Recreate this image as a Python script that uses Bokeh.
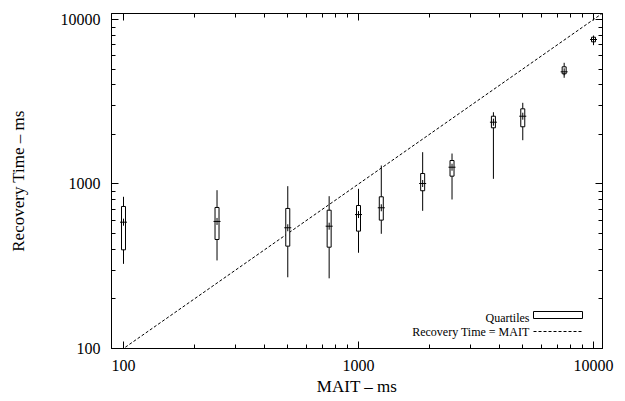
from bokeh.plotting import figure
from bokeh.models import (Range1d, FixedTicker, NumeralTickFormatter, LogAxis,
                          Label, BoxAnnotation, Arrow, CustomJSTickFormatter)
from bokeh.embed import file_html
from bokeh.resources import INLINE

# ---- data ----
mait = [100, 250, 500, 750, 1000, 1250, 1875, 2500, 3750, 5000, 7500, 10000]
whisker_lo = [327, 343, 271, 267, 382, 498, 687, 805, 1075, 1846, 4423, 6982]
q1 = [398, 460, 419, 413, 517, 603, 910, 1116, 2196, 2228, 4677, 7317]
median = [586, 592, 542, 554, 652, 717, 1007, 1265, 2375, 2583, 4808, 7558]
q3 = [730, 720, 710, 693, 740, 836, 1158, 1389, 2583, 2865, 5157, 7805]
whisker_hi = [836, 917, 970, 843, 935, 1295, 1561, 1532, 2731, 3116, 5455, 7993]

major_ticks = [100, 1000, 10000]
minor_ticks = [m * d for d in (100, 1000) for m in range(2, 10)]
ident = [80, 12000]  # Recovery Time = MAIT reference line

FONT = "Liberation Serif"

p = figure(width=617, height=398, x_axis_type="log", y_axis_type="log",
           x_range=Range1d(88.9, 10920), y_range=Range1d(100, 10876),
           output_backend="svg", toolbar_location=None,
           min_border_left=111, min_border_right=15, min_border_top=13,
           min_border_bottom=49)
p.grid.visible = False
p.outline_line_color = "black"
p.outline_line_alpha = 1
p.outline_line_width = 1
p.background_fill_color = "white"
p.border_fill_color = "white"

ticker = FixedTicker(ticks=major_ticks, minor_ticks=minor_ticks)

def style_axis(ax):
    ax.ticker = ticker
    ax.formatter = NumeralTickFormatter(format="0")
    ax.axis_line_color = "black"
    ax.major_tick_line_color = "black"
    ax.minor_tick_line_color = "black"
    ax.major_tick_in = 7
    ax.major_tick_out = 0
    ax.minor_tick_in = 4
    ax.minor_tick_out = 0
    ax.major_label_text_font = FONT
    ax.major_label_text_font_size = "16px"
    ax.major_label_text_color = "black"
    ax.axis_label_text_font = FONT
    ax.axis_label_text_font_size = "17px"
    ax.axis_label_text_font_style = "normal"
    ax.axis_label_text_color = "black"

style_axis(p.xaxis[0])
style_axis(p.yaxis[0])
p.xaxis[0].axis_label = "MAIT \u2013 ms"
p.yaxis[0].axis_label = "Recovery Time \u2013 ms"
p.xaxis[0].major_label_standoff = 11
p.xaxis[0].axis_label_standoff = 3
p.yaxis[0].major_label_standoff = 11
p.yaxis[0].axis_label_standoff = 30

# mirrored tick marks (no labels) on top and right
for loc in ("above", "right"):
    ax = LogAxis()
    style_axis(ax)
    ax.formatter = CustomJSTickFormatter(code="return ''")
    ax.major_label_text_font_size = "1px"
    ax.major_label_standoff = 0
    p.add_layout(ax, loc)

# reference line
p.line(ident, ident, line_color="black", line_width=1, line_dash="3 2")

# whiskers
p.segment(x0=mait, y0=whisker_lo, x1=mait, y1=whisker_hi,
          line_color="black", line_width=1)
# quartile boxes
half = 10 ** (2 / 235)
left = [m / half for m in mait]
right = [m * half for m in mait]
p.quad(left=left, right=right, bottom=q1, top=q3,
       fill_color="white", line_color="black", line_width=1)
# medians
p.scatter(mait, median, marker="cross", size=7, line_color="black", line_width=1)

# legend (gnuplot style: text then sample)
p.add_layout(Label(x=418, y=31, x_units="screen", y_units="screen",
                   text="Quartiles", text_align="right", text_baseline="middle",
                   text_font=FONT, text_font_size="12px", text_color="black"))
p.add_layout(Label(x=418, y=17, x_units="screen", y_units="screen",
                   text="Recovery Time = MAIT", text_align="right",
                   text_baseline="middle", text_font=FONT,
                   text_font_size="12px", text_color="black"))
p.add_layout(BoxAnnotation(left=422, right=471, bottom=30, top=37,
                           left_units="screen", right_units="screen",
                           bottom_units="screen", top_units="screen",
                           fill_color="white", fill_alpha=1,
                           line_color="black", line_width=1, line_alpha=1))
p.add_layout(Arrow(x_start=422, y_start=17, x_end=471, y_end=17,
                   start_units="screen", end_units="screen", end=None,
                   line_color="black", line_width=1, line_dash="3 2"))

open("out.html", "w").write(file_html(p, INLINE))
